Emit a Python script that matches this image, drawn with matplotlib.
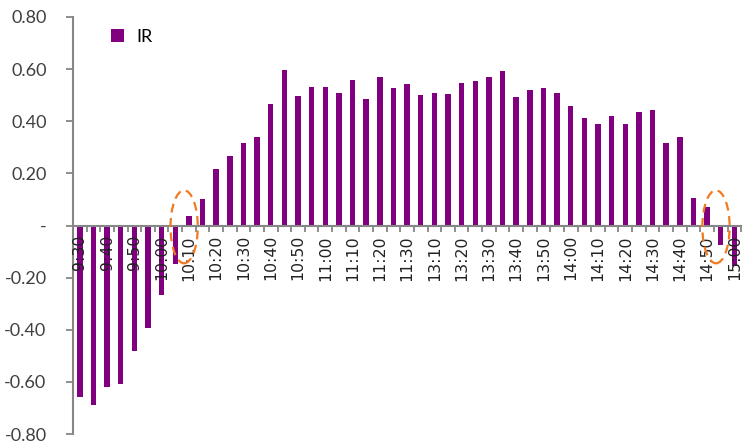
import matplotlib
matplotlib.use('Agg')
import matplotlib.pyplot as plt
from matplotlib.patches import Ellipse
import numpy as np

times = ['9:30', '9:35', '9:40', '9:45', '9:50', '9:55', '10:00', '10:05', '10:10', '10:15',
         '10:20', '10:25', '10:30', '10:35', '10:40', '10:45', '10:50', '10:55', '11:00', '11:05',
         '11:10', '11:15', '11:20', '11:25', '11:30', '13:05', '13:10', '13:15', '13:20', '13:25',
         '13:30', '13:35', '13:40', '13:45', '13:50', '13:55', '14:00', '14:05', '14:10', '14:15',
         '14:20', '14:25', '14:30', '14:35', '14:40', '14:45', '14:50', '14:55', '15:00']
ir = [-0.656, -0.688, -0.621, -0.609, -0.481, -0.395, -0.265, -0.146, 0.035, 0.102,
      0.218, 0.265, 0.316, 0.340, 0.466, 0.596, 0.498, 0.532, 0.532, 0.509,
      0.558, 0.486, 0.569, 0.526, 0.541, 0.502, 0.509, 0.505, 0.545, 0.554,
      0.569, 0.592, 0.494, 0.521, 0.529, 0.509, 0.458, 0.411, 0.390, 0.422,
      0.390, 0.434, 0.443, 0.316, 0.340, 0.106, 0.070, -0.075, -0.157]
# sign changes that are circled on the chart
circled = [('10:05', '10:10'), ('14:50', '14:55')]

x = np.arange(len(times))

fig = plt.figure(figsize=(7.5, 4.47), dpi=100)
ax = fig.add_axes([0.0973, 0.029, 0.891, 0.933])
ax.set_axisbelow(False)  # tick labels sit on top of the negative bars

ax.bar(x, ir, width=0.4, color='#800080', label='IR', zorder=2)

for a, b in circled:
    cx = (times.index(a) + times.index(b)) / 2 + 0.15
    ax.add_patch(Ellipse((cx, -0.005), 2.0, 0.28, fill=False, edgecolor='#F07A22',
                         linestyle=(0, (4, 2.5)), linewidth=1.6, zorder=3))

ax.set_xlim(-0.5, len(times) - 0.5)
ax.set_ylim(-0.8, 0.8)

ax.spines['top'].set_visible(False)
ax.spines['right'].set_visible(False)
ax.spines['bottom'].set_position(('data', 0))
for s in ['left', 'bottom']:
    ax.spines[s].set_color('#868686')
    ax.spines[s].set_linewidth(1.5)

ax.set_xticks(x[::2])
ax.set_xticklabels(times[::2], rotation=90, fontsize=11.3, color='#222222', va='top')
ax.set_xticks(np.arange(-0.5, len(times), 1), minor=True)
ax.tick_params(axis='x', which='major', length=0, pad=7)
ax.tick_params(axis='x', which='minor', length=4, width=1.3, color='#868686', direction='out')

yt = np.linspace(-0.8, 0.8, 9)
ax.set_yticks(yt)
ax.set_yticklabels(['-' if abs(v) < 1e-9 else '%.2f' % v for v in yt],
                   fontsize=13, family='Lato', color='#404040')
ax.tick_params(axis='y', length=5, width=1.3, color='#868686', pad=14)

leg = ax.legend(loc='upper left', bbox_to_anchor=(0.033, 1.01), frameon=False,
                prop={'family': 'Lato', 'size': 13}, handlelength=0.7, handleheight=0.7,
                handletextpad=0.7)

fig.savefig('out.png', dpi=100)
